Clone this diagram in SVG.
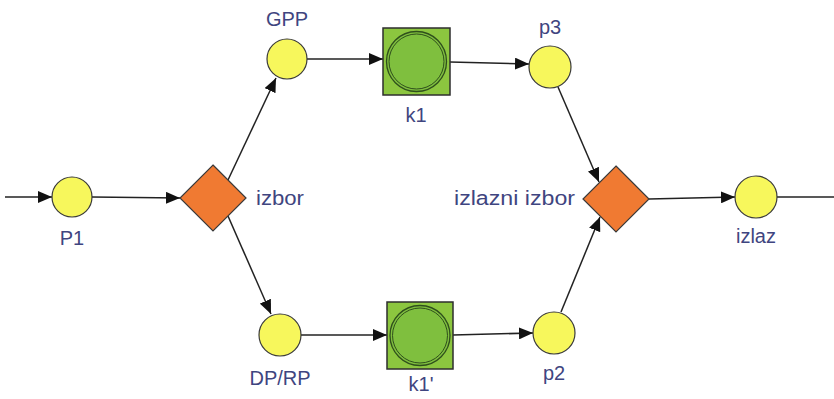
<svg xmlns="http://www.w3.org/2000/svg" width="834" height="399" viewBox="0 0 834 399">
<defs>
<style>
.place{fill:#f7f75c;stroke:#3a3a3a;stroke-width:1.2}
.choice{fill:#f07a32;stroke:#3a3a3a;stroke-width:1.2}
.box{fill:#8cc63f;stroke:#2e2e2e;stroke-width:1.5}
.inner{fill:#7fbf3e;stroke:#2f4f1c;stroke-width:1.3}
.ring{fill:none;stroke:#2f4f1c;stroke-width:1}
.lbl{font-family:"Liberation Sans",Arial,sans-serif;font-size:20px;fill:#3f4580}
.edge{stroke:#222;stroke-width:1.5;fill:none}
</style>
<marker id="arr" viewBox="0 0 14 12" refX="14" refY="6" markerWidth="14" markerHeight="12" markerUnits="userSpaceOnUse" orient="auto">
<path d="M0,0 L14,6 L0,12 z" fill="#111"/>
</marker>
</defs>
<rect width="834" height="399" fill="#fff"/>
<g id="connectors">
<line class="edge" x1="5" y1="197" x2="52" y2="197" marker-end="url(#arr)"/>
<line class="edge" x1="92" y1="197" x2="180" y2="198" marker-end="url(#arr)"/>
<line class="edge" x1="228" y1="180" x2="276" y2="78" marker-end="url(#arr)"/>
<line class="edge" x1="228" y1="216" x2="271" y2="314" marker-end="url(#arr)"/>
<line class="edge" x1="307" y1="59" x2="383" y2="59" marker-end="url(#arr)"/>
<line class="edge" x1="450" y1="62" x2="529" y2="64" marker-end="url(#arr)"/>
<line class="edge" x1="558" y1="87" x2="599" y2="182" marker-end="url(#arr)"/>
<line class="edge" x1="561" y1="312" x2="600" y2="217" marker-end="url(#arr)"/>
<line class="edge" x1="649" y1="199" x2="735" y2="197" marker-end="url(#arr)"/>
<line class="edge" x1="301" y1="335" x2="387" y2="335" marker-end="url(#arr)"/>
<line class="edge" x1="453" y1="335" x2="533" y2="333" marker-end="url(#arr)"/>
<line class="edge" x1="777" y1="197" x2="834" y2="197"/>
</g>
<g id="P1">
<circle class="place" cx="72" cy="197" r="20"/>
<text class="lbl" x="72" y="245" text-anchor="middle">P1</text>
</g>
<g id="izbor">
<polygon class="choice" points="213,165 246,198 213,231 180,198"/>
<text class="lbl" x="256" y="205" textLength="48" lengthAdjust="spacingAndGlyphs">izbor</text>
</g>
<g id="GPP">
<circle class="place" cx="287" cy="59" r="20"/>
<text class="lbl" x="287" y="26" text-anchor="middle">GPP</text>
</g>
<g id="DPRP">
<circle class="place" cx="280" cy="335" r="21"/>
<text class="lbl" x="280" y="385" text-anchor="middle">DP/RP</text>
</g>
<g id="k1">
<rect class="box" x="383" y="28" width="67" height="67"/>
<circle class="inner" cx="416.5" cy="61.5" r="30"/>
<circle class="ring" cx="416.5" cy="61.5" r="27.5"/>
<text class="lbl" x="416" y="122" text-anchor="middle">k1</text>
</g>
<g id="k1prime">
<rect class="box" x="387" y="302" width="66" height="67"/>
<circle class="inner" cx="420" cy="335.5" r="30"/>
<circle class="ring" cx="420" cy="335.5" r="27.5"/>
<text class="lbl" x="421" y="391" text-anchor="middle">k1'</text>
</g>
<g id="p3">
<circle class="place" cx="550" cy="67" r="21"/>
<text class="lbl" x="550" y="34" text-anchor="middle">p3</text>
</g>
<g id="p2">
<circle class="place" cx="554" cy="333" r="21"/>
<text class="lbl" x="554" y="380" text-anchor="middle">p2</text>
</g>
<g id="izlazni_izbor">
<polygon class="choice" points="616,166 649,199 616,232 583,199"/>
<text class="lbl" x="575" y="205" text-anchor="end" textLength="121" lengthAdjust="spacingAndGlyphs">izlazni izbor</text>
</g>
<g id="izlaz">
<circle class="place" cx="756" cy="197" r="21"/>
<text class="lbl" x="756" y="243" text-anchor="middle">izlaz</text>
</g>
</svg>
